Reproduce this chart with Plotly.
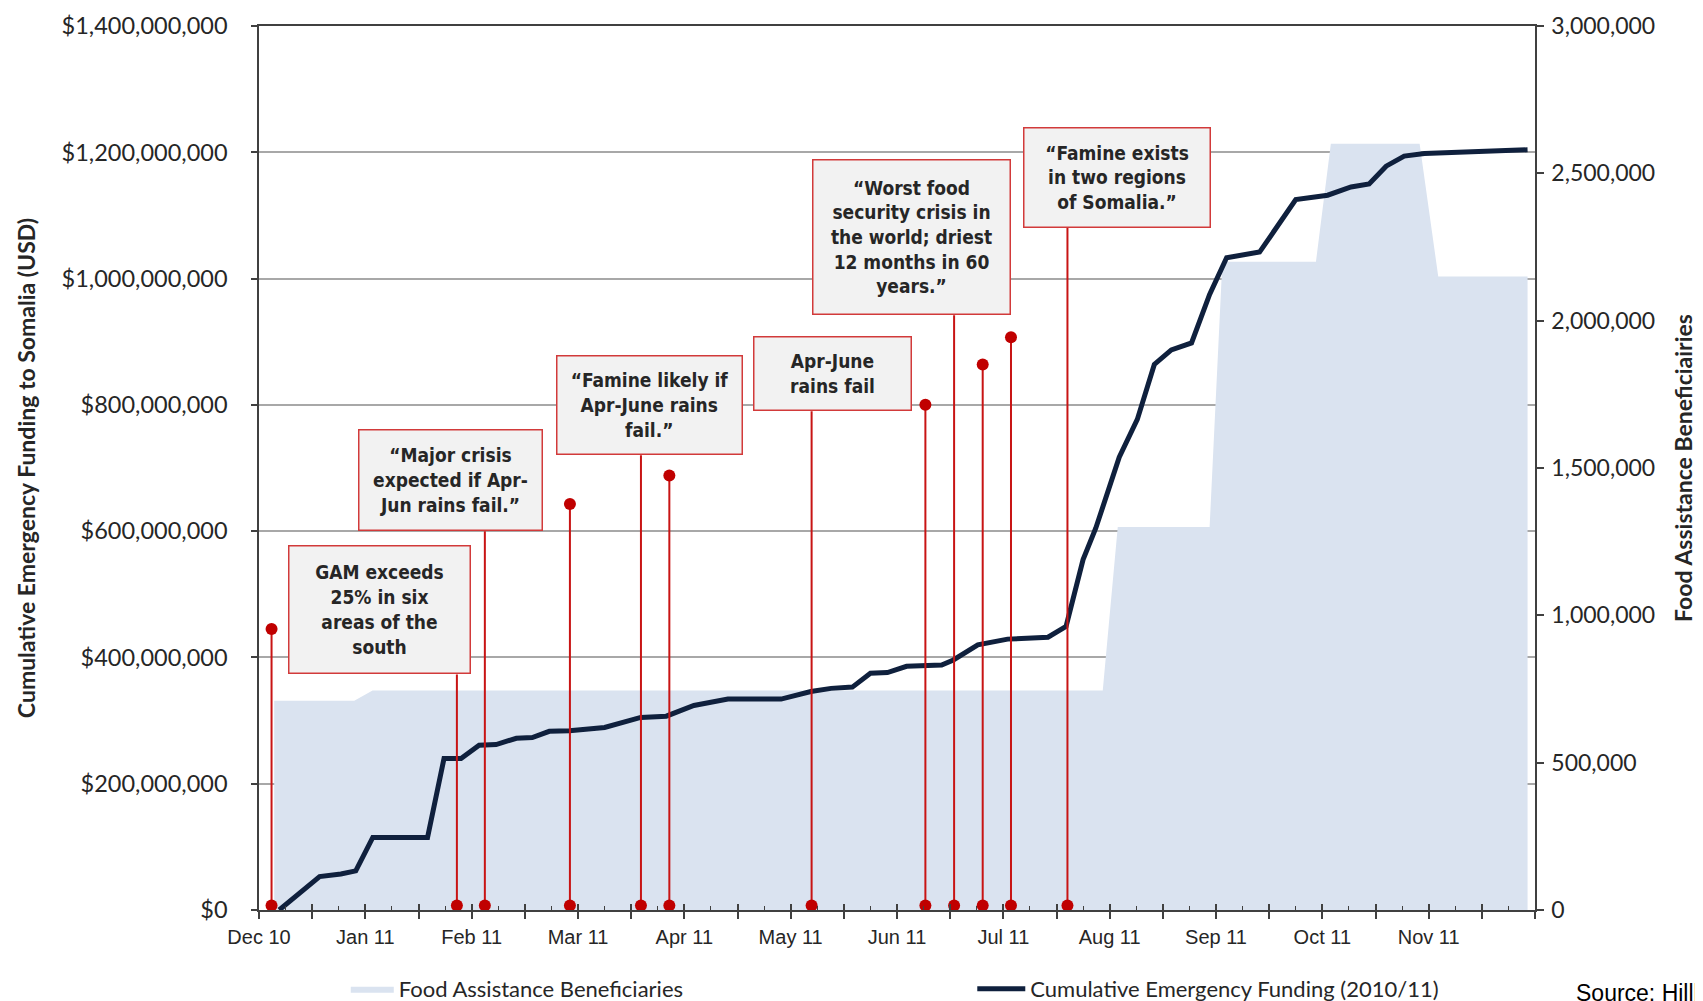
import plotly.graph_objects as go

# ---------------- data ----------------
month_labels = ["Dec 10", "Jan 11", "Feb 11", "Mar 11", "Apr 11", "May 11",
                "Jun 11", "Jul 11", "Aug 11", "Sep 11", "Oct 11", "Nov 11"]

# x positions are in "months since 1 Dec 2010" (equal-width months, as in the source chart)
ben_x = [0.143, 0.896, 1.068, 7.935, 8.076, 8.94, 9.06, 9.94, 10.08, 10.915, 11.09, 11.93]
ben_vals = [710000, 710000, 745000, 745000, 1300000, 1300000, 2200000, 2200000,
            2600000, 2600000, 2150000, 2150000]

fund_x = [0.19, 0.57, 0.77, 0.91, 1.07, 1.585, 1.74, 1.90, 2.07, 2.23, 2.42, 2.57, 2.73,
          2.92, 3.25, 3.59, 3.83, 4.09, 4.41, 4.91, 5.19, 5.38, 5.58, 5.75, 5.91, 6.09,
          6.42, 6.53, 6.76, 7.04, 7.42, 7.59, 7.75, 7.87, 8.09, 8.26, 8.42, 8.58, 8.77,
          8.94, 9.10, 9.41, 9.75, 10.05, 10.27, 10.44, 10.60, 10.77, 10.96, 11.3, 11.6, 11.93]
fund_musd = [0, 53, 57, 62, 115, 115, 240, 240, 261, 262, 272, 273, 283,
             284, 289, 305, 307, 324, 334, 334, 346, 351, 353, 375, 376, 386,
             388, 396, 420, 429, 432, 449, 555, 605, 717, 777, 864, 887, 898,
             975, 1033, 1042, 1125, 1132, 1145, 1150, 1178, 1194, 1198, 1200, 1202, 1204]

event_x = [0.118, 1.861, 2.124, 2.924, 3.592, 3.859, 5.197, 6.267, 6.537, 6.806, 7.072, 7.603]
event_top_musd = [445, 373, 600, 643, 720, 688, 790, 800, 942, 864, 907, 1080]
event_has_dot = [True, False, False, True, False, True, False, True, False, True, True, False]
event_base_musd = 7

box_texts = [
    "GAM exceeds<br>25% in six<br>areas of the<br>south",
    "\u201cMajor crisis<br>expected if Apr-<br>Jun rains fail.\u201d",
    "\u201cFamine likely if<br>Apr-June rains<br>fail.\u201d",
    "Apr-June<br>rains fail",
    "\u201cWorst food<br>security crisis in<br>the world; driest<br>12 months in 60<br>years.\u201d",
    "\u201cFamine exists<br>in two regions<br>of Somalia.\u201d",
]
# box centres (months, million USD) and box size in px
box_cx = [1.133, 1.801, 3.673, 5.394, 6.136, 8.069]
box_cy = [476, 681, 800, 850, 1066, 1160]
box_w = [183, 185, 187, 159, 199, 188]
box_h = [129, 102, 100, 75, 156, 101]

# ---------------- figure ----------------
NAVY = "#0f203d"
RED = "#c81414"
FILL = "#dae3f0"
TXT = "#262626"
AX = "#404040"
LATO = "Lato, Carlito, Calibri, sans-serif"
ARIAL = "Liberation Sans, Arial, sans-serif"
NARROW = "Liberation Sans Narrow, Arial Narrow, DejaVu Sans Condensed, Liberation Sans, sans-serif"

fig = go.Figure()

fig.add_trace(go.Scatter(
    x=ben_x, y=ben_vals, xaxis="x", yaxis="y", mode="lines",
    fill="tozeroy", fillcolor=FILL, line=dict(width=0, color=FILL),
    name="Food Assistance Beneficiaries", legend="legend", hoverinfo="skip"))

fig.add_trace(go.Scatter(
    x=fund_x, y=[v * 1e6 for v in fund_musd], xaxis="x2", yaxis="y2", mode="lines",
    line=dict(color=NAVY, width=5),
    name="Cumulative Emergency Funding (2010/11)", legend="legend2"))

# event stems
lx, ly = [], []
for ex, top in zip(event_x, event_top_musd):
    lx += [ex, ex, None]
    ly += [event_base_musd * 1e6, top * 1e6, None]
fig.add_trace(go.Scatter(x=lx, y=ly, xaxis="x2", yaxis="y2", mode="lines",
                         line=dict(color=RED, width=2), showlegend=False, hoverinfo="skip"))
fig.add_trace(go.Scatter(x=event_x, y=[event_base_musd * 1e6] * len(event_x),
                         xaxis="x2", yaxis="y2", mode="markers",
                         marker=dict(color="#c00000", size=12), showlegend=False))
fig.add_trace(go.Scatter(x=[e for e, d in zip(event_x, event_has_dot) if d],
                         y=[t * 1e6 for t, d in zip(event_top_musd, event_has_dot) if d],
                         xaxis="x2", yaxis="y2", mode="markers",
                         marker=dict(color="#c00000", size=12), showlegend=False))

halves = [i * 0.5 for i in range(25)]
half_text = [month_labels[int(h)] if (h == int(h) and int(h) < 12) else "" for h in halves]
quarters = [0.25 + 0.5 * i for i in range(24)]

annotations = []
for t, cx, cy, w, h in zip(box_texts, box_cx, box_cy, box_w, box_h):
    annotations.append(dict(
        text=t, x=cx, y=cy * 1e6, xref="x2", yref="y2", showarrow=False,
        bgcolor="#f2f2f2", bordercolor="#d23a3a", borderwidth=1.5, borderpad=0,
        width=w - 3, height=h - 3, align="center", valign="middle",
        font=dict(family=NARROW, size=19, color=TXT, weight="bold")))

annotations.append(dict(
    text="Source: Hillbruner and Moloney (2012)", x=1.0305, y=-0.0765,
    xref="paper", yref="paper", xanchor="left", yanchor="top", showarrow=False,
    font=dict(family=ARIAL, size=23, color="#000000")))

fig.update_layout(
    width=1703, height=1001, autosize=False,
    margin=dict(l=251, r=176, t=18, b=99, autoexpand=False),
    paper_bgcolor="white", plot_bgcolor="white",
    xaxis=dict(range=[0, 12], tickmode="array", tickvals=halves, ticktext=half_text,
               ticks="outside", ticklen=7, tickwidth=1.5, tickcolor=AX,
               ticklabelstandoff=1,
               showline=True, linecolor=AX, linewidth=1.5, mirror=True,
               showgrid=False, zeroline=False, anchor="y",
               tickfont=dict(family=ARIAL, size=20, color=TXT)),
    xaxis2=dict(range=[0, 12], overlaying="x", anchor="y", side="bottom",
                tickmode="array", tickvals=halves, ticks="inside", ticklen=6,
                tickwidth=1.5, tickcolor=AX, showticklabels=False,
                minor=dict(tickmode="array", tickvals=quarters, ticks="inside",
                           ticklen=4, tickwidth=1.2, tickcolor=AX),
                showline=False, showgrid=False, zeroline=False),
    yaxis=dict(range=[0, 3000000], side="right", anchor="x",
               tickmode="array", tickvals=[0, 500000, 1000000, 1500000, 2000000, 2500000, 3000000],
               tickformat=",", ticks="outside", ticklen=7, tickwidth=1.5, tickcolor=AX,
               ticklabelstandoff=3,
               showline=True, linecolor=AX, linewidth=1.5, showgrid=False, zeroline=False,
               tickfont=dict(family=LATO, size=23, color=TXT),
               title=dict(text="Food Assistance Beneficiairies", standoff=22,
                          font=dict(family=LATO, size=23, color=TXT, weight="bold"))),
    yaxis2=dict(range=[0, 1.4e9], overlaying="y", side="left", anchor="x",
                tickmode="linear", tick0=0, dtick=2e8, tickprefix="$", tickformat=",",
                ticks="outside", ticklen=6, tickwidth=1.5, tickcolor=AX,
                ticklabelstandoff=19,
                showline=True, linecolor=AX, linewidth=1.5,
                showgrid=True, gridcolor="#a8a8a8", gridwidth=1.5, zeroline=False,
                tickfont=dict(family=LATO, size=23.5, color=TXT),
                title=dict(text="Cumulative Emergency Funding to Somalia (USD)", standoff=20,
                           font=dict(family=LATO, size=23, color=TXT, weight="bold"))),
    legend=dict(x=0.068, y=-0.0894, xanchor="left", yanchor="middle",
                orientation="h", itemwidth=43, bgcolor="rgba(0,0,0,0)",
                font=dict(family=LATO, size=22, color=TXT)),
    legend2=dict(x=0.559, y=-0.0894, xanchor="left", yanchor="middle",
                 orientation="h", itemwidth=48, bgcolor="rgba(0,0,0,0)",
                 font=dict(family=LATO, size=22, color=TXT)),
    annotations=annotations,
)

fig.write_html("out.html")
